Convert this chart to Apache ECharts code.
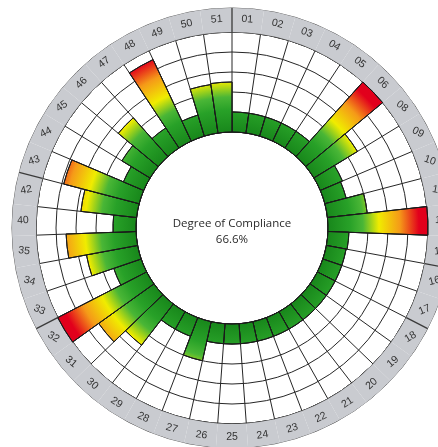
<!DOCTYPE html>
<html>
<head>
<meta charset="utf-8">
<script src="https://cdn.jsdelivr.net/npm/echarts/dist/echarts.min.js"></script>
<style>
  html, body { margin: 0; padding: 0; background: #ffffff; }
  #chart { width: 438px; height: 447px; }
</style>
</head>
<body>
<div id="chart"></div>
<script>
// Week labels around the ring (one sector per week)
const weeks = ['01','02','03','04','05','06','08','09','10','11','12','15','16','17',
  '18','19','20','21','22','23','24','25','26','27','28','29','30','31','32',
  '33','34','35','40','42','43','44','45','46','47','48','49','50','51'];

// Compliance level per week on a 0..5 scale
const compliance = [1, 1, 1, 1, 1, 5, 2.55, 1.2, 1.1, 2.0, 5, 1.05,
  1, 1, 1, 1, 1, 1, 1, 1, 1, 1, 1,
  2.0, 1, 1, 2.6, 3.4, 5, 1.45, 2.6, 3.5, 1.15,
  2.8, 3.9, 1.1, 1.65, 2.6, 1.2, 4.5, 1.1, 2.45, 2.5];

// Weeks that open a new section of the outer ring
const sectionStarts = ['01', '16', '18', '33', '43'];

// Level ticks of the radial scale
const levelTicks = [0, 1, 2, 3, 4, 5];

const centerTitle = 'Degree of Compliance';
const centerValue = '66.6%';

const CX = 232, CY = 228;     // centre of the dial
const R_IN = 96, R_GRID = 196, R_RING = 220;

const chart = echarts.init(document.getElementById('chart'), null, { renderer: 'canvas' });

// Colour depends on distance from the centre: green -> yellow -> orange -> red
const heat = {
  type: 'radial', x: CX, y: CY, r: R_GRID, global: true,
  colorStops: [
    { offset: 0, color: '#157c18' },
    { offset: R_IN / R_GRID, color: '#18871b' },
    { offset: 118 / R_GRID, color: '#28a128' },
    { offset: 131 / R_GRID, color: '#4ab636' },
    { offset: 147 / R_GRID, color: '#f0ec00' },
    { offset: 168 / R_GRID, color: '#f59a18' },
    { offset: 187 / R_GRID, color: '#e2001c' },
    { offset: 1, color: '#e0001c' }
  ]
};

function clockAngle(x, y, cx, cy) {
  let th = Math.atan2(x - cx, -(y - cy)) * 180 / Math.PI;
  if (th < 0) th += 360;
  return th;
}

// Text tilt (clockwise degrees): follows the rim at top and bottom,
// folds back to level at the left and right sides
function labelTurn(th) {
  if (th <= 45) return th;
  if (th <= 135) return 90 - th;
  if (th <= 225) return th - 180;
  if (th <= 315) return 270 - th;
  return th - 360;
}

const option = {
  animation: false,
  backgroundColor: '#ffffff',
  polar: [
    { center: [CX, CY], radius: [R_IN, R_GRID] },
    { center: [CX, CY], radius: [R_GRID, R_RING] }
  ],
  angleAxis: [
    {
      polarIndex: 0, type: 'category', data: weeks,
      startAngle: 90, clockwise: true, boundaryGap: true,
      axisLine: { show: true, lineStyle: { color: '#222222', width: 1 } },
      axisTick: { show: false, interval: 0 }, axisLabel: { show: false, interval: 0 },
      splitLine: { show: true, interval: 0, lineStyle: { color: '#262626', width: 1 } }
    },
    {
      polarIndex: 1, type: 'category', data: weeks,
      startAngle: 90, clockwise: true, boundaryGap: true,
      axisLine: { show: true, lineStyle: { color: '#555555', width: 1 } },
      axisTick: { show: false }, axisLabel: { show: false },
      splitLine: { show: false }
    }
  ],
  radiusAxis: [
    {
      polarIndex: 0, type: 'value',
      min: levelTicks[0], max: levelTicks[levelTicks.length - 1], interval: 1,
      axisLine: { show: false }, axisTick: { show: false }, axisLabel: { show: false },
      splitLine: { show: true, lineStyle: { color: '#262626', width: 1 } }
    },
    {
      polarIndex: 1, type: 'value', min: 0, max: 1,
      axisLine: { show: false }, axisTick: { show: false }, axisLabel: { show: false },
      splitLine: { show: false }
    }
  ],
  series: [
    {
      // grey band carrying the week labels
      type: 'bar', coordinateSystem: 'polar', polarIndex: 1,
      data: weeks.map(() => 1), barCategoryGap: '0%', silent: true,
      itemStyle: { color: '#c9cbd0' }
    },
    {
      type: 'bar', coordinateSystem: 'polar', polarIndex: 0,
      data: compliance, barCategoryGap: '0%',
      itemStyle: { color: heat, borderColor: '#1a1a1a', borderWidth: 1 }
    }
  ],
  graphic: [
    {
      type: 'text', x: CX, y: CY + 4, silent: true,
      style: {
        text: centerTitle + '\n' + centerValue,
        align: 'center', verticalAlign: 'middle',
        font: '11.5px "Open Sans", sans-serif', lineHeight: 16, fill: '#2a2a2a'
      }
    }
  ]
};

chart.setOption(option);

// Week labels and section dividers, positioned through the ring's own polar scales
const ringFinder = { polarIndex: 1 };
const toPx = (r, w) => chart.convertToPixel(ringFinder, [r, w]);
const extra = [];
const n = weeks.length;

weeks.forEach(w => {
  const p = toPx(0.55, w);
  const th = clockAngle(p[0], p[1], CX, CY);
  extra.push({
    type: 'text', x: p[0], y: p[1], silent: true, z: 20,
    rotation: -labelTurn(th) * Math.PI / 180,
    style: {
      text: w, fill: '#333333',
      font: '10.5px "Liberation Sans", Arial, sans-serif',
      align: 'center', verticalAlign: 'middle'
    }
  });
});

sectionStarts.forEach(w => {
  const i = weeks.indexOf(w);
  const prev = weeks[(i - 1 + n) % n];
  const a0 = toPx(0, w), a1 = toPx(1, w);
  const b0 = toPx(0, prev);
  // boundary between two neighbouring sectors: bisect their centres
  const t0 = clockAngle(a0[0], a0[1], CX, CY);
  let tp = clockAngle(b0[0], b0[1], CX, CY);
  if (tp > t0) tp -= 360;
  const a = ((t0 + tp) / 2) * Math.PI / 180;
  const r0 = Math.hypot(a0[0] - CX, a0[1] - CY);
  const r1 = Math.hypot(a1[0] - CX, a1[1] - CY);
  extra.push({
    type: 'line', silent: true, z: 19,
    shape: {
      x1: CX + r0 * Math.sin(a), y1: CY - r0 * Math.cos(a),
      x2: CX + r1 * Math.sin(a), y2: CY - r1 * Math.cos(a)
    },
    style: { stroke: '#3a3a3a', lineWidth: 1.3 }
  });
});

chart.setOption({ graphic: option.graphic.concat(extra) });
</script>
</body>
</html>
